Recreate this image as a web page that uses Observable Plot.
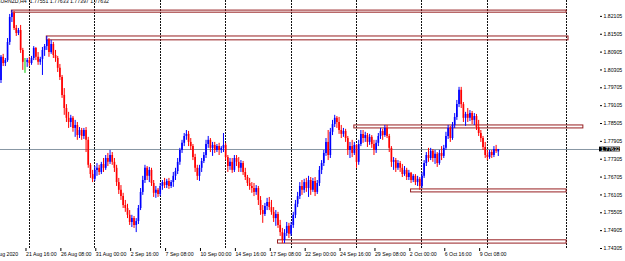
<!DOCTYPE html>
<html>
<head>
<meta charset="utf-8">
<script src="https://cdn.jsdelivr.net/npm/d3@7"></script>
<script src="https://cdn.jsdelivr.net/npm/@observablehq/plot@0.6"></script>
<style>
  html, body { margin: 0; padding: 0; background: #fff; }
  #chart { width: 625px; height: 261px; overflow: hidden; }
</style>
</head>
<body>
<div id="chart"></div>
<script>
// EURNZD H4 candles (bar index 0..228), prices
const open = [1.7995,1.8073,1.8052,1.8062,1.8123,1.8207,1.8220,1.8170,1.8153,1.8163,1.8096,1.8056,1.8056,1.8062,1.8052,1.8069,1.8103,1.8073,1.8056,1.8066,1.8096,1.8109,1.8130,1.8089,1.8116,1.8079,1.8069,1.8036,1.8005,1.7945,1.7901,1.7868,1.7854,1.7868,1.7834,1.7844,1.7810,1.7827,1.7807,1.7827,1.7794,1.7710,1.7679,1.7663,1.7693,1.7700,1.7686,1.7713,1.7700,1.7733,1.7720,1.7743,1.7720,1.7700,1.7652,1.7626,1.7605,1.7575,1.7565,1.7542,1.7518,1.7531,1.7508,1.7521,1.7565,1.7619,1.7659,1.7700,1.7673,1.7693,1.7649,1.7616,1.7626,1.7612,1.7639,1.7652,1.7642,1.7656,1.7639,1.7652,1.7673,1.7689,1.7720,1.7760,1.7784,1.7807,1.7814,1.7787,1.7773,1.7736,1.7700,1.7673,1.7700,1.7723,1.7743,1.7780,1.7794,1.7767,1.7777,1.7760,1.7773,1.7760,1.7767,1.7777,1.7736,1.7706,1.7720,1.7693,1.7733,1.7720,1.7700,1.7716,1.7686,1.7669,1.7649,1.7639,1.7632,1.7619,1.7632,1.7592,1.7558,1.7545,1.7572,1.7585,1.7568,1.7552,1.7531,1.7545,1.7508,1.7484,1.7458,1.7481,1.7505,1.7478,1.7508,1.7542,1.7579,1.7605,1.7639,1.7626,1.7652,1.7632,1.7659,1.7626,1.7656,1.7619,1.7649,1.7693,1.7716,1.7750,1.7787,1.7743,1.7821,1.7847,1.7868,1.7854,1.7827,1.7814,1.7824,1.7800,1.7760,1.7773,1.7750,1.7777,1.7720,1.7780,1.7814,1.7800,1.7810,1.7787,1.7804,1.7780,1.7760,1.7784,1.7807,1.7824,1.7810,1.7834,1.7807,1.7767,1.7720,1.7726,1.7700,1.7716,1.7700,1.7679,1.7693,1.7669,1.7683,1.7659,1.7673,1.7652,1.7663,1.7639,1.7673,1.7716,1.7743,1.7733,1.7757,1.7733,1.7747,1.7716,1.7750,1.7740,1.7767,1.7807,1.7834,1.7800,1.7844,1.7871,1.7914,1.7962,1.7914,1.7868,1.7881,1.7868,1.7884,1.7861,1.7874,1.7837,1.7817,1.7800,1.7770,1.7743,1.7736,1.7753,1.7743,1.7763,1.77551];
const high = [1.8079,1.8083,1.8069,1.8136,1.8217,1.8230,1.8227,1.8180,1.8170,1.8180,1.8103,1.8069,1.8069,1.8073,1.8076,1.8109,1.8106,1.8089,1.8073,1.8106,1.8116,1.8143,1.8136,1.8130,1.8123,1.8096,1.8076,1.8049,1.8012,1.7968,1.7914,1.7888,1.7878,1.7874,1.7861,1.7854,1.7837,1.7834,1.7834,1.7837,1.7804,1.7716,1.7693,1.7706,1.7716,1.7710,1.7720,1.7733,1.7743,1.7750,1.7760,1.7753,1.7733,1.7710,1.7666,1.7642,1.7616,1.7592,1.7579,1.7558,1.7542,1.7538,1.7531,1.7575,1.7632,1.7673,1.7710,1.7706,1.7703,1.7700,1.7659,1.7639,1.7632,1.7649,1.7659,1.7666,1.7663,1.7666,1.7659,1.7686,1.7700,1.7733,1.7767,1.7794,1.7817,1.7827,1.7824,1.7800,1.7780,1.7747,1.7710,1.7710,1.7733,1.7753,1.7794,1.7807,1.7800,1.7787,1.7787,1.7780,1.7784,1.7773,1.7817,1.7784,1.7743,1.7733,1.7733,1.7743,1.7743,1.7736,1.7726,1.7723,1.7700,1.7676,1.7666,1.7652,1.7649,1.7642,1.7639,1.7605,1.7575,1.7582,1.7599,1.7602,1.7592,1.7568,1.7558,1.7552,1.7525,1.7498,1.7494,1.7518,1.7515,1.7518,1.7552,1.7592,1.7619,1.7652,1.7659,1.7663,1.7666,1.7673,1.7669,1.7666,1.7669,1.7659,1.7706,1.7726,1.7760,1.7800,1.7827,1.7834,1.7861,1.7878,1.7874,1.7871,1.7844,1.7834,1.7831,1.7807,1.7787,1.7794,1.7787,1.7780,1.7794,1.7827,1.7827,1.7821,1.7817,1.7814,1.7810,1.7794,1.7794,1.7817,1.7834,1.7831,1.7844,1.7844,1.7814,1.7773,1.7736,1.7733,1.7726,1.7723,1.7713,1.7706,1.7700,1.7693,1.7686,1.7679,1.7679,1.7673,1.7669,1.7686,1.7726,1.7753,1.7767,1.7767,1.7763,1.7760,1.7753,1.7760,1.7773,1.7777,1.7821,1.7844,1.7841,1.7854,1.7884,1.7928,1.7972,1.7972,1.7921,1.7888,1.7901,1.7894,1.7891,1.7884,1.7881,1.7861,1.7827,1.7807,1.7787,1.7760,1.7760,1.7760,1.7773,1.7777,1.77633];
const low = [1.7985,1.8042,1.8042,1.8056,1.8113,1.8190,1.8163,1.8143,1.8146,1.8086,1.8029,1.8019,1.8039,1.8042,1.8046,1.8062,1.8062,1.8046,1.8046,1.8012,1.8076,1.8096,1.8073,1.8083,1.8069,1.8056,1.8022,1.7995,1.7935,1.7878,1.7854,1.7834,1.7837,1.7821,1.7804,1.7794,1.7800,1.7794,1.7797,1.7753,1.7700,1.7666,1.7652,1.7656,1.7673,1.7676,1.7679,1.7686,1.7693,1.7706,1.7713,1.7710,1.7686,1.7639,1.7612,1.7592,1.7565,1.7552,1.7531,1.7508,1.7501,1.7498,1.7484,1.7511,1.7558,1.7609,1.7649,1.7659,1.7652,1.7639,1.7602,1.7599,1.7602,1.7605,1.7626,1.7632,1.7632,1.7629,1.7632,1.7636,1.7659,1.7679,1.7710,1.7750,1.7773,1.7794,1.7773,1.7760,1.7726,1.7686,1.7659,1.7656,1.7686,1.7716,1.7733,1.7767,1.7753,1.7740,1.7750,1.7753,1.7743,1.7750,1.7753,1.7726,1.7686,1.7693,1.7683,1.7686,1.7706,1.7686,1.7686,1.7676,1.7659,1.7639,1.7626,1.7616,1.7605,1.7609,1.7575,1.7542,1.7515,1.7538,1.7558,1.7558,1.7542,1.7518,1.7505,1.7498,1.7471,1.7447,1.7447,1.7471,1.7464,1.7471,1.7498,1.7531,1.7568,1.7595,1.7609,1.7616,1.7619,1.7602,1.7609,1.7619,1.7605,1.7612,1.7639,1.7679,1.7706,1.7740,1.7726,1.7733,1.7810,1.7837,1.7834,1.7814,1.7800,1.7804,1.7787,1.7743,1.7733,1.7736,1.7743,1.7700,1.7710,1.7773,1.7784,1.7787,1.7770,1.7777,1.7767,1.7743,1.7750,1.7773,1.7797,1.7794,1.7804,1.7800,1.7753,1.7703,1.7693,1.7686,1.7693,1.7686,1.7669,1.7673,1.7659,1.7659,1.7649,1.7652,1.7642,1.7639,1.7626,1.7632,1.7666,1.7706,1.7720,1.7726,1.7720,1.7713,1.7703,1.7710,1.7726,1.7733,1.7760,1.7797,1.7787,1.7794,1.7834,1.7861,1.7904,1.7901,1.7854,1.7841,1.7854,1.7857,1.7847,1.7844,1.7827,1.7807,1.7787,1.7760,1.7733,1.7726,1.7730,1.7733,1.7736,1.7750,1.77397];
const close = [1.8073,1.8052,1.8062,1.8123,1.8207,1.8220,1.8170,1.8153,1.8163,1.8096,1.8056,1.8056,1.8062,1.8052,1.8069,1.8103,1.8073,1.8056,1.8066,1.8096,1.8109,1.8130,1.8089,1.8116,1.8079,1.8069,1.8036,1.8005,1.7945,1.7901,1.7868,1.7854,1.7868,1.7834,1.7844,1.7810,1.7827,1.7807,1.7827,1.7794,1.7710,1.7679,1.7663,1.7693,1.7700,1.7686,1.7713,1.7700,1.7733,1.7720,1.7743,1.7720,1.7700,1.7652,1.7626,1.7605,1.7575,1.7565,1.7542,1.7518,1.7531,1.7508,1.7521,1.7565,1.7619,1.7659,1.7700,1.7673,1.7693,1.7649,1.7616,1.7626,1.7612,1.7639,1.7652,1.7642,1.7656,1.7639,1.7652,1.7673,1.7689,1.7720,1.7760,1.7784,1.7807,1.7814,1.7787,1.7773,1.7736,1.7700,1.7673,1.7700,1.7723,1.7743,1.7780,1.7794,1.7767,1.7777,1.7760,1.7773,1.7760,1.7767,1.7777,1.7736,1.7706,1.7720,1.7693,1.7733,1.7720,1.7700,1.7716,1.7686,1.7669,1.7649,1.7639,1.7632,1.7619,1.7632,1.7592,1.7558,1.7545,1.7572,1.7585,1.7568,1.7552,1.7531,1.7545,1.7508,1.7484,1.7458,1.7481,1.7505,1.7478,1.7508,1.7542,1.7579,1.7605,1.7639,1.7626,1.7652,1.7632,1.7659,1.7626,1.7656,1.7619,1.7649,1.7693,1.7716,1.7750,1.7787,1.7743,1.7821,1.7847,1.7868,1.7854,1.7827,1.7814,1.7824,1.7800,1.7760,1.7773,1.7750,1.7777,1.7720,1.7780,1.7814,1.7800,1.7810,1.7787,1.7804,1.7780,1.7760,1.7784,1.7807,1.7824,1.7810,1.7834,1.7807,1.7767,1.7720,1.7726,1.7700,1.7716,1.7700,1.7679,1.7693,1.7669,1.7683,1.7659,1.7673,1.7652,1.7663,1.7639,1.7673,1.7716,1.7743,1.7733,1.7757,1.7733,1.7747,1.7716,1.7750,1.7740,1.7767,1.7807,1.7834,1.7800,1.7844,1.7871,1.7914,1.7962,1.7914,1.7868,1.7881,1.7868,1.7884,1.7861,1.7874,1.7837,1.7817,1.7800,1.7770,1.7743,1.7736,1.7753,1.7743,1.7763,1.7757,1.77632];

// time axis labels (bar index of each label) and price ticks
const xLabelIdx = [11,27,43,59,75,91,107,123,139,155,171,187,203,219];
const xLabels = ["21 Aug 16:00","26 Aug 08:00","31 Aug 00:00","2 Sep 16:00","7 Sep 08:00","10 Sep 00:00","14 Sep 16:00","17 Sep 08:00","22 Sep 00:00","24 Sep 16:00","29 Sep 08:00","2 Oct 00:00","6 Oct 16:00","9 Oct 08:00"];
const firstLabel = "19 Aug 2020";
const firstLabelIdx = -6;
const gridIdx = [13,43,73,103,133,163,193,223];
const markerIdx = [259.3];
const yTicks = [1.82105,1.81505,1.80905,1.80305,1.79705,1.79105,1.78505,1.77905,1.77305,1.76705,1.76105,1.75505,1.74905,1.74305];
const title = "EURNZD,H4  1.77551 1.77633 1.77397 1.77632";
const lastPrice = 1.77632;

// drawn zones (rectangles): start bar, end bar, top price, bottom price
const zoneStart = [5, 21, 162, 188, 127];
const zoneEnd   = [259.3, 260.2, 267, 259.3, 259.3];
const zoneTop   = [1.8230, 1.8143, 1.7844, 1.7629, 1.7458];
const zoneBot   = [1.8223, 1.8130, 1.7834, 1.7619, 1.7447];

const bars = open.map((o, i) => ({i, o, h: high[i], l: low[i], c: close[i]}));
const zones = zoneStart.map((s, k) => ({x1: s, x2: zoneEnd[k], y1: zoneTop[k], y2: zoneBot[k]}));
const colorOf = d => d.c > d.o ? "#0000ff" : d.c < d.o ? "#ff0000" : "#00c800";
const labelMap = new Map(xLabelIdx.map((d, k) => [d, xLabels[k]]));

const xMin = -0.229, xMax = 274.4;
const yMin = 1.74305, yMax = 1.82639;
const FS = 5.2;

const chart = Plot.plot({
  width: 625,
  height: 261,
  marginTop: 0,
  marginBottom: 13,
  marginLeft: 0,
  marginRight: 26,
  style: {background: "#fff", fontFamily: "'Liberation Sans', Arial, sans-serif", fontSize: FS + "px", color: "#000"},
  x: {type: "linear", domain: [xMin, xMax]},
  y: {type: "linear", domain: [yMin, yMax]},
  marks: [
    Plot.ruleX(gridIdx, {stroke: "#111", strokeWidth: 1, strokeDasharray: "1.5,1.5", shapeRendering: "crispEdges"}),
    Plot.ruleX(markerIdx, {stroke: "#111", strokeWidth: 1, strokeDasharray: "1.5,1.5", shapeRendering: "crispEdges"}),
    Plot.ruleY([lastPrice], {stroke: "#8796a3", strokeWidth: 1}),
    Plot.rect(zones, {x1: "x1", x2: "x2", y1: "y1", y2: "y2", fill: "none", stroke: "#961e20", strokeWidth: 1}),
    Plot.ruleX(bars, {x: "i", y1: "l", y2: "h", stroke: colorOf, strokeWidth: 1}),
    Plot.ruleX(bars, {x: "i", y1: "o", y2: "c", stroke: colorOf, strokeWidth: 1.7}),
    Plot.axisY({anchor: "right", ticks: yTicks, tickFormat: d => d.toFixed(5), tickSize: 2, tickPadding: 2, line: true, fontSize: FS, stroke: "#000"}),
    Plot.axisX({anchor: "bottom", ticks: xLabelIdx, tickFormat: d => labelMap.get(d), tickSize: 3, tickPadding: 1, textAnchor: "start", dx: 1, line: true, fontSize: FS, stroke: "#000"}),
    Plot.text([firstLabel], {x: firstLabelIdx, frameAnchor: "bottom", textAnchor: "start", lineAnchor: "top", dx: 1, dy: 4, fontSize: FS, fill: "#000"}),
    Plot.rect([lastPrice], {x1: xMax, x2: xMax + 9.6, y1: d => d - 0.0008, y2: d => d + 0.0008, fill: "#000"}),
    Plot.text([lastPrice], {x: xMax, y: d => d, text: d => d.toFixed(5), fill: "#fff", textAnchor: "start", dx: 1.5, fontSize: FS}),
    Plot.text([title], {frameAnchor: "top-left", textAnchor: "start", lineAnchor: "middle", dx: -3.5, dy: 1.3, fontSize: FS, fill: "#000"})
  ]
});
document.getElementById("chart").appendChild(chart);
</script>
</body>
</html>
